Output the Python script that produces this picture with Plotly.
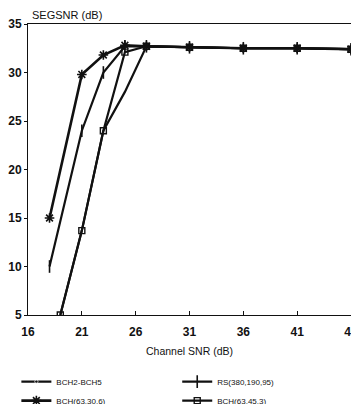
import plotly.graph_objects as go

# x values (Channel SNR, dB)
x_star = [18, 21, 23, 25, 27, 31, 36, 41, 46]
y_star = [15, 29.8, 31.8, 32.8, 32.7, 32.6, 32.5, 32.5, 32.4]

x_rs = [18, 21, 23, 25, 27, 31, 36, 41, 46]
y_rs = [10, 24, 30, 32.7, 32.7, 32.6, 32.5, 32.5, 32.4]

x_sq = [19, 21, 23, 25, 27, 31, 36, 41, 46]
y_sq = [5, 13.7, 24, 32.1, 32.7, 32.6, 32.5, 32.5, 32.4]

x_bch = [19, 21, 23, 25, 27, 31, 36, 41, 46]
y_bch = [5, 13.7, 24, 28.0, 32.7, 32.6, 32.5, 32.5, 32.4]

x_ticks = [16, 21, 26, 31, 36, 41, 46]
y_ticks = [5, 10, 15, 20, 25, 30, 35]

FONT = "Liberation Sans, Arial, sans-serif"
BLACK = "#111111"

bch_marker_sizes = [0 if v < 27 else 6 for v in x_bch]

fig = go.Figure()
fig.add_trace(go.Scatter(
    x=x_bch, y=y_bch, name="BCH2-BCH5", mode="lines+markers", legend="legend",
    line=dict(color=BLACK, width=2.2),
    marker=dict(symbol="circle", size=bch_marker_sizes, color=BLACK)))
fig.add_trace(go.Scatter(
    x=x_star, y=y_star, name="BCH(63,30,6)", mode="lines+markers", legend="legend",
    line=dict(color=BLACK, width=2.6),
    marker=dict(symbol="asterisk-open", size=8, color=BLACK, line=dict(width=1.6, color=BLACK))))
fig.add_trace(go.Scatter(
    x=x_rs, y=y_rs, name="RS(380,190,95)", mode="lines+markers", legend="legend2",
    line=dict(color=BLACK, width=2.2),
    marker=dict(symbol="line-ns-open", size=9, color=BLACK, line=dict(width=1.6, color=BLACK))))
fig.add_trace(go.Scatter(
    x=x_sq, y=y_sq, name="BCH(63,45,3)", mode="lines+markers", legend="legend2",
    line=dict(color=BLACK, width=2.2),
    marker=dict(symbol="square-open", size=6, color=BLACK, line=dict(width=1.4, color=BLACK))))

legend_common = dict(
    orientation="v", yanchor="top", xanchor="left", y=-0.179,
    font=dict(size=8, family=FONT, color=BLACK),
    bgcolor="rgba(0,0,0,0)", itemwidth=30, traceorder="normal",
)

# page body has an 8px default margin on every side; keep the page from
# overflowing vertically so no scrollbar eats the right edge
fig.update_layout(
    width=351, height=396,
    margin=dict(l=20, r=8, t=16, b=89, autoexpand=False),
    paper_bgcolor="white", plot_bgcolor="white",
    font=dict(family=FONT, color=BLACK, size=11),
    showlegend=True,
    legend=dict(x=-0.036, **legend_common),
    legend2=dict(x=0.462, **legend_common),
    annotations=[dict(
        text="SEGSNR (dB)", xref="paper", yref="paper", x=0, y=1,
        xanchor="left", yanchor="middle", yshift=9, xshift=3, showarrow=False,
        borderpad=0,
        font=dict(size=11, family=FONT, color=BLACK))],
)
fig.update_xaxes(
    range=[16, 46], tickvals=x_ticks, ticktext=[str(v) for v in x_ticks],
    showgrid=False, zeroline=False, showline=True, linecolor=BLACK, linewidth=1,
    mirror=True, ticks="inside", ticklen=4, tickcolor=BLACK,
    ticklabeloverflow="allow", ticklabelstandoff=6,
    tickfont=dict(size=12, family=FONT, color=BLACK, weight="bold"),
    title=dict(text="Channel SNR (dB)", font=dict(size=10.5, family=FONT, color=BLACK), standoff=9),
)
fig.update_yaxes(
    range=[5, 35], tickvals=y_ticks, ticktext=[str(v) for v in y_ticks],
    showgrid=False, zeroline=False, showline=True, linecolor=BLACK, linewidth=1,
    mirror=True, ticks="outside", ticklen=3, tickcolor=BLACK,
    tickfont=dict(size=12, family=FONT, color=BLACK, weight="bold"),
)

fig.write_html("out.html")
